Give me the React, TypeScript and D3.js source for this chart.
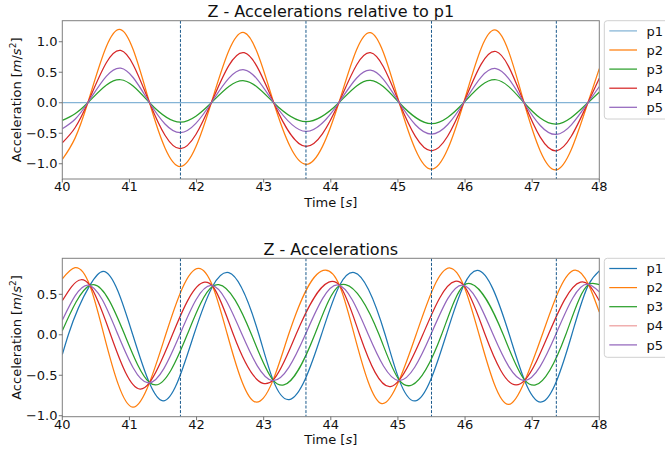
import React from "react";
import * as d3 from "d3";

// ---------- data ----------
const seriesNames = ["p1", "p2", "p3", "p4", "p5"];
const xTicks = [40, 41, 42, 43, 44, 45, 46, 47, 48];
const topYTicks = [-1.0, -0.5, 0.0, 0.5, 1.0];
const botYTicks = [-1.0, -0.5, 0.0, 0.5];
const markerTimes = [41.76, 43.63, 45.5, 47.36];

// Top plot: accelerations relative to p1 (key points: extremes & zero crossings)
const relTime = [40.0, 40.19, 40.38, 40.87, 41.3, 41.76, 42.22, 42.71, 43.15, 43.63, 44.12, 44.59, 45.02, 45.5, 45.98, 46.46, 46.88, 47.36, 47.83, 48.0];
const relP1 = [0, 0, 0, 0, 0, 0, 0, 0, 0, 0, 0, 0, 0, 0, 0, 0, 0, 0, 0, 0];
const relP2 = [-0.93, -0.58, 0, 1.2, 0, -1.045, 0, 1.15, 0, -1.01, 0, 1.15, 0, -1.09, 0, 1.19, 0, -1.1, 0, 0.56];
const relP3 = [-0.29, -0.18, 0, 0.377, 0, -0.318, 0, 0.36, 0, -0.31, 0, 0.366, 0, -0.344, 0, 0.377, 0, -0.35, 0, 0.175];
const relP4 = [-0.656, -0.41, 0, 0.857, 0, -0.754, 0, 0.82, 0, -0.716, 0, 0.82, 0, -0.787, 0, 0.84, 0, -0.787, 0, 0.4];
const relP5 = [-0.426, -0.27, 0, 0.567, 0, -0.49, 0, 0.54, 0, -0.47, 0, 0.535, 0, -0.514, 0, 0.56, 0, -0.52, 0, 0.265];

// Bottom plot: absolute accelerations (key points per series)
const absP1Time = [40.0, 40.09, 40.41, 40.61, 41.05, 41.3, 41.5, 41.96, 42.24, 42.48, 42.93, 43.14, 43.38, 43.86, 44.13, 44.35, 44.81, 45.02, 45.26, 45.72, 45.98, 46.18, 46.66, 46.89, 47.14, 47.59, 47.84, 48.0];
const absP1 = [-0.245, 0, 0.61, 0.784, 0, -0.6, -0.817, 0, 0.6, 0.768, 0, -0.56, -0.8, 0, 0.61, 0.768, 0, -0.56, -0.817, 0, 0.61, 0.796, 0, -0.57, -0.83, 0, 0.62, 0.79];
const absP2Time = [40.0, 40.19, 40.41, 40.62, 41.05, 41.3, 41.54, 42.03, 42.24, 42.46, 42.85, 43.14, 43.37, 43.92, 44.13, 44.35, 44.76, 45.02, 45.27, 45.78, 45.98, 46.21, 46.65, 46.89, 47.15, 47.64, 47.84, 48.0];
const absP2 = [0.69, 0.83, 0.61, 0, -0.895, -0.59, 0, 0.82, 0.6, 0, -0.82, -0.56, 0, 0.8, 0.61, 0, -0.85, -0.56, 0, 0.825, 0.61, 0, -0.86, -0.57, 0, 0.8, 0.62, 0.28];
const absP3Time = [40.0, 40.41, 40.47, 40.93, 41.3, 41.39, 41.86, 42.24, 42.33, 42.82, 43.14, 43.3, 43.76, 44.13, 44.22, 44.72, 45.02, 45.21, 45.65, 45.98, 46.09, 46.57, 46.89, 47.05, 47.5, 47.84, 47.95, 48.0];
const absP3 = [0.05, 0.61, 0.62, 0, -0.59, -0.62, 0, 0.6, 0.62, 0, -0.56, -0.62, 0, 0.61, 0.62, 0, -0.56, -0.62, 0, 0.61, 0.63, 0, -0.56, -0.62, 0, 0.62, 0.63, 0.62];
const absP4Time = [40.0, 40.28, 40.41, 40.72, 41.16, 41.3, 41.64, 42.12, 42.24, 42.55, 42.99, 43.14, 43.48, 43.97, 44.13, 44.43, 44.89, 45.02, 45.37, 45.85, 45.98, 46.3, 46.76, 46.89, 47.24, 47.72, 47.84, 48.0];
const absP4 = [0.42, 0.68, 0.61, 0, -0.67, -0.59, 0, 0.65, 0.6, 0, -0.6, -0.56, 0, 0.65, 0.61, 0, -0.64, -0.56, 0, 0.66, 0.61, 0, -0.62, -0.56, 0, 0.65, 0.62, 0.42];
const absP5Time = [40.0, 40.38, 40.83, 41.28, 41.75, 42.22, 42.68, 43.13, 43.62, 44.11, 44.56, 45.01, 45.49, 45.96, 46.42, 46.88, 47.35, 47.82, 48.0];
const absP5 = [0.18, 0.615, 0, -0.595, 0, 0.61, 0, -0.565, 0, 0.615, 0, -0.565, 0, 0.615, 0, -0.565, 0, 0.625, 0.53];

// ---------- styling ----------
const colors = ["#1f77b4", "#ff7f0e", "#2ca02c", "#d62728", "#9467bd"];
const FONT = "DejaVu Sans, sans-serif";

const W = 665;
const H = 450;
const X0 = 62.3;
const X1 = 599.3;

type Series = { t: number[]; v: number[] };

const topSeries: Series[] = [
  { t: relTime, v: relP1 },
  { t: relTime, v: relP2 },
  { t: relTime, v: relP3 },
  { t: relTime, v: relP4 },
  { t: relTime, v: relP5 },
];
const botSeries: Series[] = [
  { t: absP1Time, v: absP1 },
  { t: absP2Time, v: absP2 },
  { t: absP3Time, v: absP3 },
  { t: absP4Time, v: absP4 },
  { t: absP5Time, v: absP5 },
];

// Custom d3 curve: natural cubic spline as a function of x (not of the point index),
// emitted as exact cubic Bézier segments.
function curveNaturalX(context: any) {
  let xs: number[] = [];
  let ys: number[] = [];
  return {
    areaStart() {},
    areaEnd() {},
    lineStart() {
      xs = [];
      ys = [];
    },
    point(x: number, y: number) {
      xs.push(+x);
      ys.push(+y);
    },
    lineEnd() {
      const n = xs.length;
      if (n === 0) return;
      context.moveTo(xs[0], ys[0]);
      if (n === 1) return;
      if (n === 2) {
        context.lineTo(xs[1], ys[1]);
        return;
      }
      const h: number[] = [];
      for (let i = 0; i < n - 1; i++) h.push(xs[i + 1] - xs[i]);
      // tridiagonal system for second derivatives (natural ends)
      const M = new Array(n).fill(0);
      const m = n - 2;
      const a: number[] = [], b: number[] = [], c: number[] = [], r: number[] = [];
      for (let k = 0; k < m; k++) {
        const i = k + 1;
        a.push(h[i - 1]);
        b.push(2 * (h[i - 1] + h[i]));
        c.push(h[i]);
        r.push(6 * ((ys[i + 1] - ys[i]) / h[i] - (ys[i] - ys[i - 1]) / h[i - 1]));
      }
      for (let k = 1; k < m; k++) {
        const w = a[k] / b[k - 1];
        b[k] -= w * c[k - 1];
        r[k] -= w * r[k - 1];
      }
      const sol = new Array(m).fill(0);
      sol[m - 1] = r[m - 1] / b[m - 1];
      for (let k = m - 2; k >= 0; k--) sol[k] = (r[k] - c[k] * sol[k + 1]) / b[k];
      for (let k = 0; k < m; k++) M[k + 1] = sol[k];
      for (let i = 0; i < n - 1; i++) {
        const hi = h[i];
        const s = (ys[i + 1] - ys[i]) / hi;
        const d0 = s - (hi * (2 * M[i] + M[i + 1])) / 6;
        const d1 = s + (hi * (M[i] + 2 * M[i + 1])) / 6;
        context.bezierCurveTo(
          xs[i] + hi / 3,
          ys[i] + (d0 * hi) / 3,
          xs[i + 1] - hi / 3,
          ys[i + 1] - (d1 * hi) / 3,
          xs[i + 1],
          ys[i + 1]
        );
      }
    },
  };
}

const fmt = (v: number) => {
  const s = v.toFixed(1);
  return v < 0 ? "\u2212" + s.slice(1) : s;
};

type PanelProps = {
  id: string;
  title: string;
  top: number;
  bottom: number;
  yDomain: [number, number];
  yTicks: number[];
  series: Series[];
  legendTop: number;
  legendBottom: number;
  lineOpacity: number[];
  legendOpacity: number[];
};

function Panel(p: PanelProps) {
  const x = d3.scaleLinear().domain([40, 48]).range([X0, X1]);
  const y = d3.scaleLinear().domain(p.yDomain).range([p.bottom, p.top]);
  const line = d3
    .line<[number, number]>()
    .x((d) => x(d[0]))
    .y((d) => y(d[1]))
    .curve(curveNaturalX as any);
  const midY = (p.top + p.bottom) / 2;
  const rowH = 19.1;
  return (
    <g>
      <defs>
        <clipPath id={p.id}>
          <rect x={X0} y={p.top} width={X1 - X0} height={p.bottom - p.top} />
        </clipPath>
      </defs>
      <rect x={X0} y={p.top} width={X1 - X0} height={p.bottom - p.top} fill="#fff" />
      <g clipPath={`url(#${p.id})`}>
        {p.series.map((s, i) => (
          <path
            key={i}
            d={line(s.t.map((t, k) => [t, s.v[k]] as [number, number])) || ""}
            fill="none"
            stroke={colors[i]}
            strokeWidth={1.25}
            strokeOpacity={p.lineOpacity[i]}
          />
        ))}
        {markerTimes.map((t, i) => (
          <line
            key={i}
            x1={x(t)}
            x2={x(t)}
            y1={p.top}
            y2={p.bottom}
            stroke="#1b5a8c"
            strokeWidth={1}
            strokeDasharray="3,1.6"
          />
        ))}
      </g>
      <rect
        x={X0}
        y={p.top}
        width={X1 - X0}
        height={p.bottom - p.top}
        fill="none"
        stroke="#7f7f7f"
        strokeWidth={1}
      />
      {xTicks.map((t) => (
        <g key={t}>
          <line x1={x(t)} x2={x(t)} y1={p.bottom} y2={p.bottom + 3.5} stroke="#555" strokeWidth={0.8} />
          <text
            x={x(t)}
            y={p.bottom + 12.3}
            textAnchor="middle"
            fontFamily={FONT}
            fontSize={13}
            fill="#111"
          >
            {t}
          </text>
        </g>
      ))}
      {p.yTicks.map((v) => (
        <g key={v}>
          <line x1={X0 - 3.5} x2={X0} y1={y(v)} y2={y(v)} stroke="#555" strokeWidth={0.8} />
          <text
            x={57.5}
            y={y(v) + 4.6}
            textAnchor="end"
            fontFamily={FONT}
            fontSize={13}
            fill="#111"
          >
            {fmt(v)}
          </text>
        </g>
      ))}
      <text
        x={(X0 + X1) / 2}
        y={p.bottom + 27.6}
        textAnchor="middle"
        fontFamily={FONT}
        fontSize={13}
        fill="#111"
      >
        Time [<tspan fontStyle="italic">s</tspan>]
      </text>
      <text
        transform={`translate(20.5,${midY}) rotate(-90)`}
        textAnchor="middle"
        fontFamily={FONT}
        fontSize={13}
        fill="#111"
      >
        Acceleration [<tspan fontStyle="italic">m</tspan>/<tspan fontStyle="italic">s</tspan>
        <tspan dy={-5} fontSize={9}>2</tspan>
        <tspan dy={5}>]</tspan>
      </text>
      <text
        x={(X0 + X1) / 2}
        y={p.top - 3.6}
        textAnchor="middle"
        fontFamily={FONT}
        fontSize={16}
        fill="#111"
      >
        {p.title}
      </text>
      <rect
        x={604.3}
        y={p.legendTop}
        width={80}
        height={p.legendBottom - p.legendTop}
        rx={3}
        fill="#fff"
        fillOpacity={0.8}
        stroke="#d0d0d0"
        strokeWidth={1}
      />
      {seriesNames.map((n, i) => {
        const ry = p.legendTop + 10.2 + i * rowH;
        return (
          <g key={n}>
            <line
              x1={609.3}
              x2={637}
              y1={ry}
              y2={ry}
              stroke={colors[i]}
              strokeWidth={1.25}
              strokeOpacity={p.legendOpacity[i]}
            />
            <text x={646.5} y={ry + 4.6} fontFamily={FONT} fontSize={13} fill="#111">
              {n}
            </text>
          </g>
        );
      })}
    </g>
  );
}

export default function App() {
  return (
    <svg
      width={W}
      height={H}
      viewBox={`0 0 ${W} ${H}`}
      style={{ position: "absolute", left: 0, top: 0, background: "#fff" }}
    >
      <rect width={W} height={H} fill="#fff" />
      <Panel
        id="clipTop"
        title="Z - Accelerations relative to p1"
        top={20.7}
        bottom={179}
        yDomain={[-1.25, 1.345]}
        yTicks={topYTicks}
        series={topSeries}
        legendTop={20.7}
        legendBottom={119}
        lineOpacity={[0.55, 1, 1, 1, 1]}
        legendOpacity={[0.55, 1, 1, 1, 1]}
      />
      <Panel
        id="clipBot"
        title="Z - Accelerations"
        top={258.3}
        bottom={416.7}
        yDomain={[-1.012, 0.945]}
        yTicks={botYTicks}
        series={botSeries}
        legendTop={258.3}
        legendBottom={357.3}
        lineOpacity={[1, 1, 1, 1, 1]}
        legendOpacity={[1, 1, 1, 0.45, 1]}
      />
    </svg>
  );
}
